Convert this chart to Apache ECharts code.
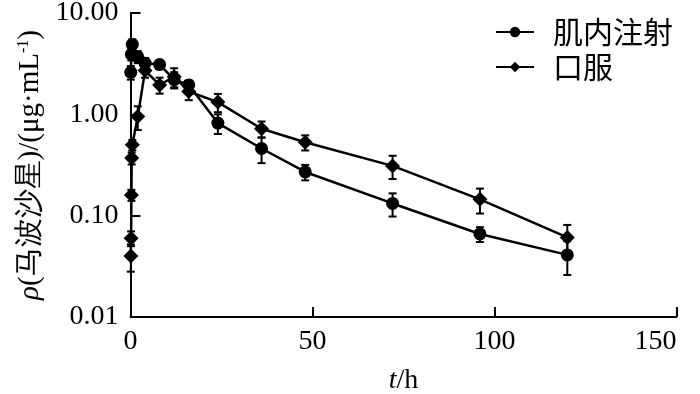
<!DOCTYPE html>
<html><head><meta charset="utf-8">
<script src="https://cdn.jsdelivr.net/npm/echarts@6/dist/echarts.min.js"></script>
<style>html,body{margin:0;padding:0;background:#fff}#c{width:700px;height:394px}</style>
</head><body><div id="c"></div>
<script>
// Intramuscular (肌内注射)
const timeIM = [0.083, 0.25, 0.5, 2, 4, 8, 12, 16, 24, 36, 48, 72, 96, 120];
const meanIM = [2.6, 3.9, 4.9, 3.7, 3.2, 3.1, 2.2, 1.95, 0.82, 0.46, 0.27, 0.132, 0.066, 0.041];
const sdIM   = [0.4, 0.5, 0.6, 0.5, 0.4, 0.3, 0.4, 0.2, 0.18, 0.13, 0.047, 0.034, 0.011, 0.015];
// Oral (口服)
const timeOral = [0.083, 0.167, 0.25, 0.33, 0.5, 2, 4, 8, 12, 16, 24, 36, 48, 72, 96, 120];
const meanOral = [0.04, 0.06, 0.16, 0.37, 0.50, 0.95, 2.7, 1.95, 2.35, 1.68, 1.32, 0.72, 0.53, 0.31, 0.145, 0.061];
const sdOral   = [0.012, 0.01, 0.02, 0.05, 0.06, 0.25, 0.4, 0.35, 0.5, 0.3, 0.27, 0.13, 0.09, 0.08, 0.04, 0.02];
const yTicks = [0.01, 0.1, 1, 10];
const xTicks = [0, 50, 100, 150];
const seriesNames = ['肌内注射', '口服'];

const serif = 'Liberation Serif';
const cjk = 'Noto Sans CJK SC';

function pts(t, m) { return t.map((x, i) => [x, m[i]]); }
function errData(t, m, s) { return t.map((x, i) => [x, m[i] - s[i], m[i] + s[i]]); }

function errSeries(data) {
  return {
    type: 'custom',
    data: data,
    z: 3,
    silent: true,
    renderItem: function (params, api) {
      const x = api.value(0);
      const lo = api.coord([x, api.value(1)]);
      const hi = api.coord([x, api.value(2)]);
      const hw = 4;
      const st = { stroke: '#000', lineWidth: 2 };
      return {
        type: 'group',
        children: [
          { type: 'line', shape: { x1: lo[0], y1: lo[1], x2: hi[0], y2: hi[1] }, style: st },
          { type: 'line', shape: { x1: lo[0] - hw, y1: lo[1], x2: lo[0] + hw, y2: lo[1] }, style: st },
          { type: 'line', shape: { x1: hi[0] - hw, y1: hi[1], x2: hi[0] + hw, y2: hi[1] }, style: st }
        ]
      };
    },
    encode: { x: 0, y: [1, 2] }
  };
}

const chart = echarts.init(document.getElementById('c'), null, { renderer: 'canvas' });
chart.setOption({
  animation: false,
  backgroundColor: '#fff',
  grid: { left: 130.5, right: 23.5, top: 13, bottom: 77, containLabel: false, outerBoundsMode: 'none' },
  legend: {
    data: seriesNames,
    orient: 'vertical',
    left: 490,
    top: 12,
    itemWidth: 38,
    itemHeight: 13,
    itemGap: 5,
    textStyle: { fontFamily: cjk, fontSize: 30, color: '#000', padding: [0, 0, 0, 14] }
  },
  xAxis: {
    type: 'value', min: 0, max: 150, interval: 50,
    name: '{i|t}/h',
    nameLocation: 'middle',
    nameGap: 50,
    nameTextStyle: {
      fontFamily: serif, fontSize: 28, color: '#000',
      rich: { i: { fontFamily: serif, fontStyle: 'italic', fontSize: 28, color: '#000' } }
    },
    axisLine: { lineStyle: { color: '#000', width: 2 } },
    axisTick: { inside: true, length: 10, lineStyle: { color: '#000', width: 2 } },
    axisLabel: { fontFamily: serif, fontSize: 28, color: '#000', margin: 11, alignMaxLabel: 'right' },
    splitLine: { show: false }
  },
  yAxis: {
    type: 'log', logBase: 10, min: 0.01, max: 10,
    name: '{i|ρ}(马波沙星)/(μg·mL{s|-1})',
    nameLocation: 'middle',
    nameRotate: 90,
    nameGap: 86,
    nameTextStyle: {
      fontFamily: serif, fontSize: 29, color: '#000',
      rich: {
        i: { fontFamily: serif, fontStyle: 'italic', fontSize: 29, color: '#000' },
        s: { fontFamily: serif, fontSize: 16, color: '#000', verticalAlign: 'top', padding: [0, 0, 12, 0] }
      }
    },
    axisLine: { lineStyle: { color: '#000', width: 2 } },
    axisTick: { inside: true, length: 10, lineStyle: { color: '#000', width: 2 } },
    minorTick: { show: false },
    axisLabel: {
      fontFamily: serif, fontSize: 28, color: '#000', margin: 12,
      formatter: function (v) { return (+v).toFixed(2); }
    },
    splitLine: { show: false }
  },
  series: [
    errSeries(errData(timeIM, meanIM, sdIM)),
    errSeries(errData(timeOral, meanOral, sdOral)),
    {
      name: seriesNames[0], type: 'line', data: pts(timeIM, meanIM),
      symbol: 'circle', symbolSize: 13, z: 4,
      lineStyle: { color: '#000', width: 2.5 },
      itemStyle: { color: '#000' }
    },
    {
      name: seriesNames[1], type: 'line', data: pts(timeOral, meanOral),
      symbol: 'diamond', symbolSize: 15, z: 4,
      lineStyle: { color: '#000', width: 2.5 },
      itemStyle: { color: '#000' }
    }
  ]
});
</script>
</body></html>
